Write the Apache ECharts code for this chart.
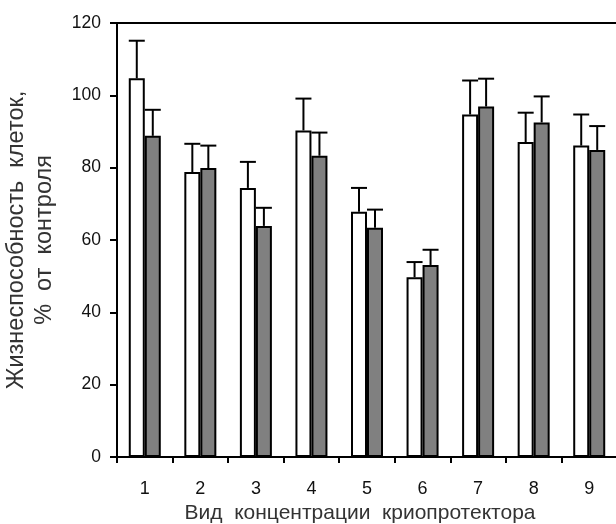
<!DOCTYPE html>
<html><head><meta charset="utf-8">
<script src="https://cdn.jsdelivr.net/npm/echarts@6/dist/echarts.min.js"></script>
<style>html,body{margin:0;padding:0;background:#fff}#c{width:616px;height:524px}</style>
</head><body><div id="c"></div>
<script>
const categories = ['1','2','3','4','5','6','7','8','9'];
const whiteValues = [104.7, 78.8, 74.4, 90.3, 67.8, 49.7, 94.7, 87.1, 86.1];
const whiteSD     = [10.4, 7.8, 7.2, 8.8, 6.6, 4.2, 9.4, 8.1, 8.6];
const grayValues  = [88.8, 79.9, 63.9, 83.3, 63.4, 53.1, 96.9, 92.5, 84.9];
const graySD      = [7.2, 6.2, 5.0, 6.4, 5.0, 4.2, 7.7, 7.2, 6.6];
const yTicks = [0, 20, 40, 60, 80, 100, 120];

const FONT = '"Liberation Sans", Arial, sans-serif';
const BAR_W = 16;
const chart = echarts.init(document.getElementById('c'), null, {renderer: 'canvas'});

function errSeries(values, sds, side) {
  return {
    type: 'custom',
    z: 5,
    data: values.map((v, i) => [i, v, v + sds[i]]),
    renderItem: function (params, api) {
      const i = api.value(0);
      const base = api.coord([i, api.value(1)]);
      const top = api.coord([i, api.value(2)]);
      const x = base[0] + side * BAR_W / 2;
      const st = {stroke: '#000', lineWidth: 2, fill: null};
      return {type: 'group', children: [
        {type: 'line', shape: {x1: x, y1: base[1], x2: x, y2: top[1]}, style: st},
        {type: 'line', shape: {x1: x - BAR_W / 2, y1: top[1], x2: x + BAR_W / 2, y2: top[1]}, style: st}
      ]};
    }
  };
}

chart.setOption({
  animation: false,
  textStyle: {fontFamily: FONT},
  grid: {left: 117, right: -1, top: 23, bottom: 67, outerBoundsMode: 'none', containLabel: false},
  xAxis: [{
    type: 'category',
    data: categories,
    axisLine: {lineStyle: {color: '#000', width: 2}},
    axisTick: {show: true, length: 6, lineStyle: {color: '#000', width: 2}},
    axisLabel: {color: '#111', fontSize: 18, fontFamily: FONT, margin: 23},
    name: 'Вид  концентрации  криопротектора',
    nameLocation: 'middle',
    nameGap: 42,
    nameTextStyle: {color: '#333', fontSize: 21, fontFamily: FONT, padding: [0, 14, 0, 0]}
  }, {
    type: 'category',
    data: categories,
    position: 'top',
    axisLine: {lineStyle: {color: '#000', width: 2}},
    axisTick: {show: false},
    axisLabel: {show: false}
  }],
  yAxis: {
    type: 'value',
    min: yTicks[0],
    max: yTicks[yTicks.length - 1],
    interval: 20,
    splitLine: {show: false},
    axisLine: {show: true, lineStyle: {color: '#000', width: 2}},
    axisTick: {show: true, length: 7, lineStyle: {color: '#000', width: 2}},
    axisLabel: {color: '#111', fontSize: 17.5, fontFamily: FONT, margin: 16},
    name: 'Жизнеспособность  клеток,\n%  от  контроля',
    nameLocation: 'middle',
    nameRotate: 90,
    nameGap: 58,
    nameTextStyle: {color: '#333', fontSize: 23.5, fontFamily: FONT, lineHeight: 28}
  },
  series: [{
    type: 'bar',
    data: whiteValues,
    barWidth: BAR_W,
    barGap: '0%',
    itemStyle: {color: '#fff', borderColor: '#000', borderWidth: 2}
  }, {
    type: 'bar',
    data: grayValues,
    barWidth: BAR_W,
    barGap: '0%',
    itemStyle: {color: '#808080', borderColor: '#000', borderWidth: 2}
  },
  errSeries(whiteValues, whiteSD, -1),
  errSeries(grayValues, graySD, 1)
  ]
});
</script></body></html>
